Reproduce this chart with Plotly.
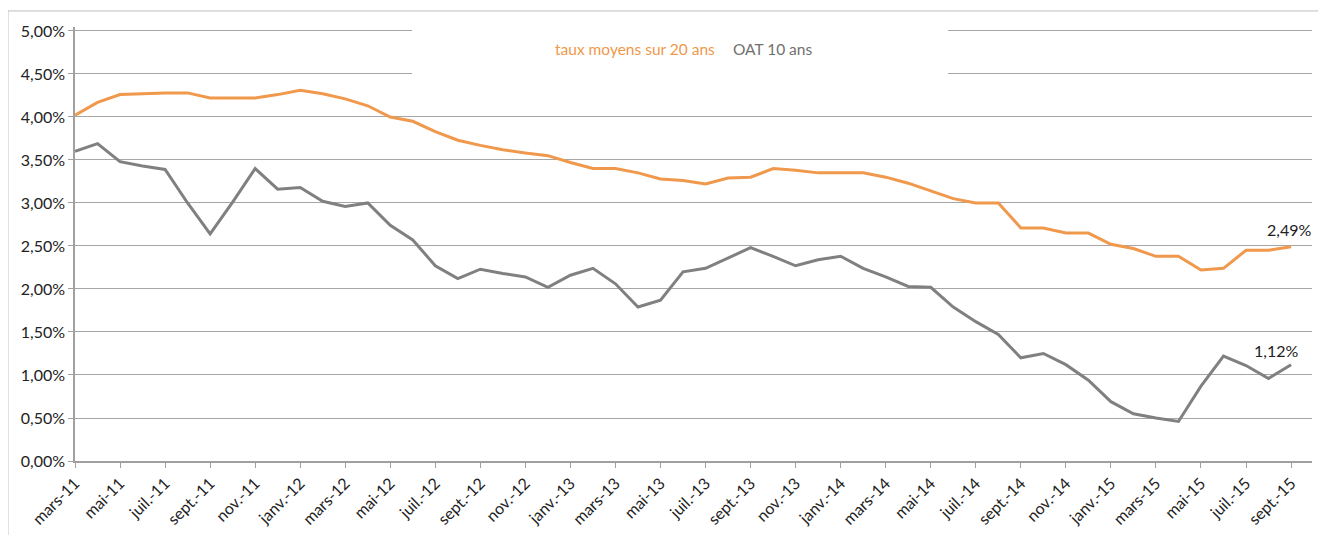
import plotly.graph_objects as go

months = ["mars-11", "avr.-11", "mai-11", "juin-11", "juil.-11", "août-11", "sept.-11", "oct.-11", "nov.-11", "déc.-11",
          "janv.-12", "févr.-12", "mars-12", "avr.-12", "mai-12", "juin-12", "juil.-12", "août-12", "sept.-12", "oct.-12", "nov.-12", "déc.-12",
          "janv.-13", "févr.-13", "mars-13", "avr.-13", "mai-13", "juin-13", "juil.-13", "août-13", "sept.-13", "oct.-13", "nov.-13", "déc.-13",
          "janv.-14", "févr.-14", "mars-14", "avr.-14", "mai-14", "juin-14", "juil.-14", "août-14", "sept.-14", "oct.-14", "nov.-14", "déc.-14",
          "janv.-15", "févr.-15", "mars-15", "avr.-15", "mai-15", "juin-15", "juil.-15", "août-15", "sept.-15"]

taux_20_ans = [4.02, 4.17, 4.26, 4.27, 4.28, 4.28, 4.22, 4.22, 4.22, 4.26,
               4.31, 4.27, 4.21, 4.13, 4.00, 3.95, 3.83, 3.73, 3.67, 3.62,
               3.58, 3.55, 3.47, 3.40, 3.40, 3.35, 3.28, 3.26, 3.22, 3.29,
               3.30, 3.40, 3.38, 3.35, 3.35, 3.35, 3.30, 3.23, 3.14, 3.05,
               3.00, 3.00, 2.71, 2.71, 2.65, 2.65, 2.52, 2.47, 2.38, 2.38,
               2.22, 2.24, 2.45, 2.45, 2.49]

oat_10_ans = [3.60, 3.69, 3.48, 3.43, 3.39, 3.00, 2.64, 3.01, 3.40, 3.16,
              3.18, 3.02, 2.96, 3.00, 2.74, 2.57, 2.27, 2.12, 2.23, 2.18,
              2.14, 2.02, 2.16, 2.24, 2.06, 1.79, 1.87, 2.20, 2.24, 2.36,
              2.48, 2.38, 2.27, 2.34, 2.38, 2.24, 2.14, 2.03, 2.02, 1.79,
              1.62, 1.47, 1.20, 1.25, 1.12, 0.94, 0.69, 0.55, 0.50, 0.46,
              0.87, 1.22, 1.11, 0.96, 1.12]

y_ticks = [0, 0.5, 1, 1.5, 2, 2.5, 3, 3.5, 4, 4.5, 5]

names = ["taux moyens sur 20 ans", "OAT 10 ans"]
colors = ["#F0984B", "#808080"]

x = list(range(len(months)))
tick_idx = x[::2]
tick_txt = months[::2]


def fmt(v):
    return f"{v:.2f}".replace(".", ",") + "%"


fig = go.Figure()
fig.add_trace(go.Scatter(x=x, y=taux_20_ans, mode="lines", name=names[0],
                         line=dict(color=colors[0], width=3)))
fig.add_trace(go.Scatter(x=x, y=oat_10_ans, mode="lines", name=names[1],
                         line=dict(color=colors[1], width=3)))

font_fam = "Lato, 'Open Sans', sans-serif"

annotations = [
    dict(x=x[-1], y=taux_20_ans[-1], xref="x", yref="y", text=fmt(taux_20_ans[-1]),
         showarrow=False, yshift=17, xshift=-2, font=dict(size=16, color="#222222", family=font_fam)),
    dict(x=x[-1], y=oat_10_ans[-1], xref="x", yref="y", text=fmt(oat_10_ans[-1]),
         showarrow=False, yshift=14, xshift=-15, font=dict(size=16, color="#222222", family=font_fam)),
    dict(x=0.3864, y=0.949, xref="paper", yref="paper", xanchor="left", yanchor="middle",
         text=names[0], showarrow=False, font=dict(size=15.5, color=colors[0], family=font_fam)),
    dict(x=0.5303, y=0.949, xref="paper", yref="paper", xanchor="left", yanchor="middle",
         text=names[1], showarrow=False, font=dict(size=15.5, color="#707070", family=font_fam)),
]

shapes = [
    # legend background hiding gridlines
    dict(type="rect", xref="paper", yref="paper", x0=0.2724, x1=0.7058, y0=0.878, y1=1.005,
         fillcolor="white", line=dict(width=0), layer="above"),
    # outer chart frame
    dict(type="rect", xref="paper", yref="paper", x0=-0.0542, x1=1.03, y0=-0.25, y1=1.037,
         fillcolor="rgba(0,0,0,0)", line=dict(color="#BDBDBD", width=1), layer="below"),
]

# the page body has an 8px default margin, so the figure is sized to fit inside the window
fig.update_layout(
    width=1318, height=527,
    margin=dict(l=67, r=14, t=19, b=74, autoexpand=False),
    paper_bgcolor="white", plot_bgcolor="white",
    showlegend=False,
    annotations=annotations,
    shapes=shapes,
    font=dict(family=font_fam, size=16, color="#222222"),
)

fig.update_xaxes(
    range=[0, 54.93], tickmode="array", tickvals=tick_idx, ticktext=tick_txt,
    tickangle=-45, ticks="outside", ticklen=5, tickcolor="#A0A0A0",
    showline=True, linecolor="#A0A0A0", linewidth=1.5,
    showgrid=False, zeroline=False, automargin=False,
    tickfont=dict(size=16, color="#222222", family=font_fam),
)
fig.update_yaxes(
    range=[0, 5.046], tickmode="array", tickvals=y_ticks, ticktext=[fmt(v) for v in y_ticks],
    ticks="outside", ticklen=5, tickcolor="#A0A0A0",
    showline=True, linecolor="#A0A0A0", linewidth=1.5,
    showgrid=True, gridcolor="#A6A6A6", gridwidth=1, zeroline=False, automargin=False,
    tickfont=dict(size=16, color="#222222", family=font_fam),
)

fig.write_html("out.html")
